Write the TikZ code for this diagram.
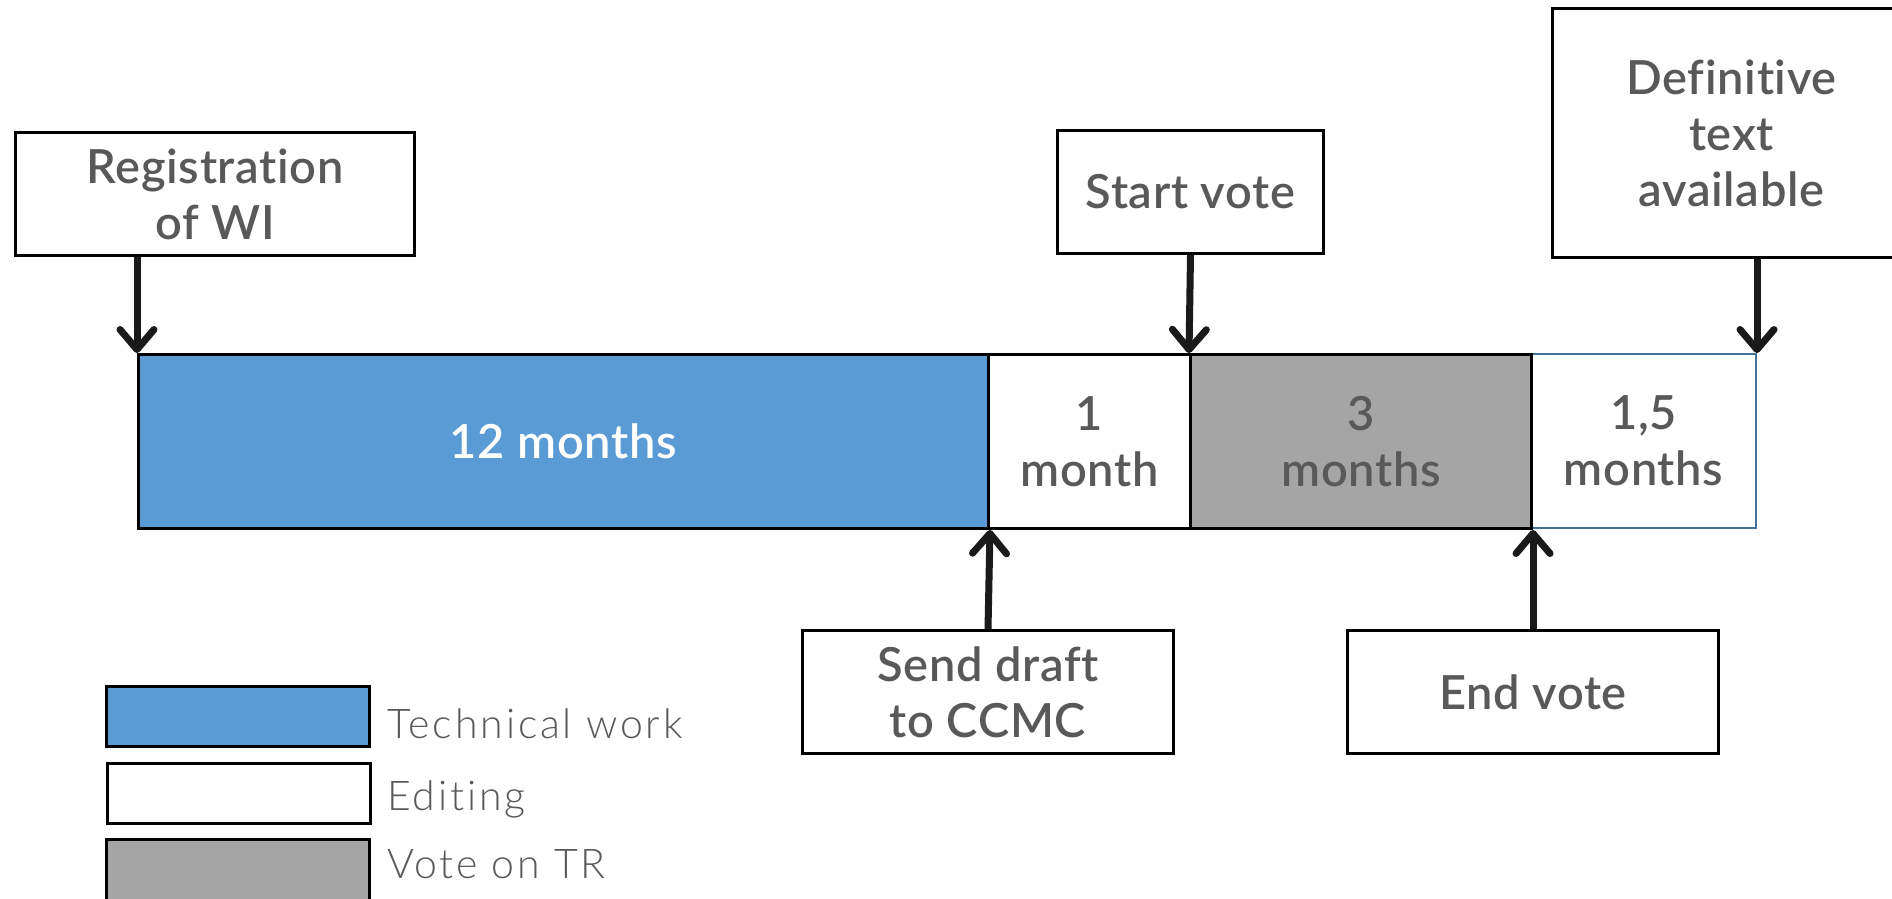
\documentclass[tikz,border=0pt]{standalone}
\usepackage{fontspec}
\setmainfont{Lato}[BoldFont={Lato Semibold}, Ligatures=NoCommon]
\newfontfamily\labelfont{Lato Semibold}[LetterSpace=1.5, Ligatures=NoCommon]
\newfontfamily\legendfont{Lato Light}[LetterSpace=7, Ligatures=NoCommon]
\usetikzlibrary{arrows.meta}
\definecolor{txt}{HTML}{595959}
\definecolor{techblue}{HTML}{5B9BD5}
\definecolor{votegray}{HTML}{A5A5A5}
\definecolor{edgeblue}{HTML}{41719C}
\definecolor{arrowblack}{HTML}{1A1A1A}
\begin{document}
\begin{tikzpicture}[x=1pt,y=-1pt,
  labelbox/.style={draw=black, line width=3pt, fill=white, text=txt, anchor=north west,
    font=\labelfont\fontsize{47}{56}\selectfont, align=center, inner sep=0pt},
  segbox/.style={draw=black, line width=3pt, anchor=north west, minimum height=174pt, inner sep=0pt,
    text=txt, font=\labelfont\fontsize{47}{56}\selectfont, align=center},
  legbox/.style={draw=black, line width=3pt, anchor=north west, minimum width=263pt, inner sep=0pt},
  legtext/.style={anchor=base west, text=txt, inner sep=0pt, font=\legendfont\fontsize{41}{47}\selectfont},
  arr/.style={draw=arrowblack, line width=7pt, -{Straight Barb[length=20pt, width=34pt, round]}}
]
\clip (0,0) rectangle (1892,898);
\fill[white] (0,0) rectangle (1892,898);

% timeline segments
\node[segbox, fill=techblue, text=white, minimum width=850pt] (seg1) at (137,353) {12 months};
\node[segbox, fill=white, minimum width=202pt] (seg2) at (987,353) {1\\month};
\node[segbox, fill=white, draw=edgeblue, line width=2pt, minimum width=225pt] (seg4) at (1530,353) {1,5\\months};
\node[segbox, fill=votegray, minimum width=341pt] (seg3) at (1189,353) {3\\months};

% milestone boxes
\node[labelbox, minimum width=399pt, minimum height=123pt] (reg) at (14,131) {Registration\\of WI};
\node[labelbox, minimum width=266pt, minimum height=123pt] (start) at (1056,129) {Start vote};
\node[labelbox, minimum width=358pt, minimum height=249pt] (def) at (1551,7) {Definitive\\text\\available};
\node[labelbox, minimum width=371pt, minimum height=123pt] (send) at (801,629) {Send draft\\to CCMC};
\node[labelbox, minimum width=371pt, minimum height=123pt] (endv) at (1346,629) {End vote};

% arrows
\draw[arr] (seg1.north west |- reg.south) -- (seg1.north west);
\draw[arr] (start.south) -- (seg3.north west);
\draw[arr] (seg4.north east |- def.south) -- (seg4.north east);
\draw[arr] (send.north) -- (seg1.south east);
\draw[arr] (seg3.south east |- endv.north) -- (seg3.south east);

% legend
\node[legbox, fill=techblue, minimum height=60pt] (lg1) at (105,685) {};
\node[legbox, fill=white, minimum height=60pt] (lg2) at (106,762) {};
\node[legbox, fill=votegray, minimum height=70pt] (lg3) at (105,838) {};
\node[legtext] (lt1) at (387,738) {Technical work};
\node[legtext] (lt2) at (387,810) {Editing};
\node[legtext] (lt3) at (387,878) {Vote on TR};
\end{tikzpicture}
\end{document}
